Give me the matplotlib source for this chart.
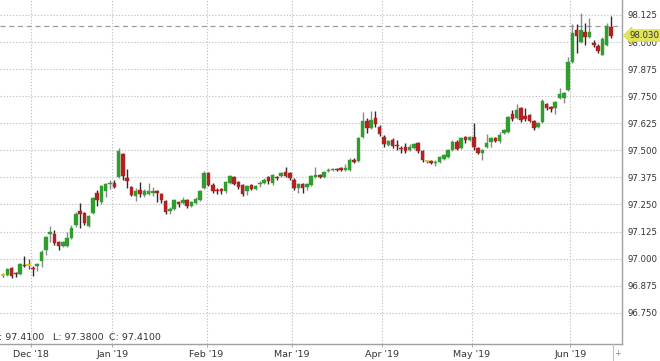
import matplotlib
matplotlib.use("Agg")
import matplotlib.pyplot as plt
import matplotlib.transforms as mtransforms
import numpy as np

# ---------------- data ----------------
opens = [96.925, 96.925, 96.955, 96.935, 96.930, 96.970, 96.970, 96.955, 96.965, 96.990,
         97.040, 97.115, 97.115, 97.075, 97.060, 97.060, 97.095, 97.155, 97.220, 97.210,
         97.150, 97.210, 97.305, 97.260, 97.310, 97.345, 97.350, 97.375, 97.485, 97.370,
         97.330, 97.290, 97.315, 97.295, 97.300, 97.305, 97.310, 97.300, 97.265, 97.220,
         97.230, 97.260, 97.255, 97.270, 97.245, 97.255, 97.270, 97.325, 97.395, 97.340,
         97.315, 97.320, 97.310, 97.350, 97.375, 97.355, 97.340, 97.310, 97.340, 97.320,
         97.345, 97.350, 97.375, 97.350, 97.375, 97.380, 97.400, 97.395, 97.365, 97.325,
         97.345, 97.330, 97.340, 97.375, 97.385, 97.375, 97.405, 97.410, 97.415, 97.420,
         97.410, 97.410, 97.455, 97.450, 97.560, 97.635, 97.605, 97.650, 97.610, 97.560,
         97.525, 97.550, 97.525, 97.510, 97.515, 97.500, 97.510, 97.535, 97.495, 97.450,
         97.450, 97.440, 97.445, 97.460, 97.470, 97.500, 97.540, 97.510, 97.560, 97.550,
         97.560, 97.510, 97.490, 97.515, 97.540, 97.555, 97.545, 97.580, 97.585, 97.670,
         97.650, 97.695, 97.660, 97.665, 97.635, 97.610, 97.630, 97.715, 97.700, 97.695,
         97.740, 97.740, 97.780, 97.910, 98.055, 98.000, 98.045, 98.025, 97.995, 97.980,
         97.940, 97.985, 98.070]
highs = [96.935, 96.955, 96.960, 96.940, 96.980, 97.010, 97.000, 96.965, 96.980, 97.040,
         97.105, 97.150, 97.130, 97.080, 97.080, 97.125, 97.155, 97.215, 97.255, 97.215,
         97.200, 97.285, 97.315, 97.340, 97.350, 97.365, 97.365, 97.510, 97.490, 97.415,
         97.335, 97.325, 97.355, 97.320, 97.350, 97.330, 97.315, 97.305, 97.270, 97.240,
         97.275, 97.265, 97.285, 97.275, 97.265, 97.285, 97.315, 97.405, 97.400, 97.350,
         97.325, 97.325, 97.360, 97.385, 97.380, 97.360, 97.345, 97.340, 97.345, 97.340,
         97.360, 97.370, 97.380, 97.390, 97.380, 97.400, 97.425, 97.400, 97.370, 97.350,
         97.350, 97.350, 97.385, 97.425, 97.390, 97.405, 97.420, 97.420, 97.420, 97.425,
         97.435, 97.465, 97.465, 97.560, 97.675, 97.650, 97.680, 97.680, 97.615, 97.570,
         97.550, 97.555, 97.550, 97.520, 97.535, 97.530, 97.535, 97.540, 97.500, 97.455,
         97.455, 97.455, 97.475, 97.485, 97.505, 97.550, 97.550, 97.560, 97.565, 97.565,
         97.625, 97.515, 97.505, 97.575, 97.560, 97.560, 97.585, 97.600, 97.660, 97.685,
         97.715, 97.700, 97.695, 97.670, 97.640, 97.630, 97.735, 97.720, 97.705, 97.730,
         97.790, 97.770, 97.930, 98.085, 98.085, 98.135, 98.090, 98.110, 98.010, 97.990,
         98.025, 98.090, 98.120]
lows = [96.915, 96.920, 96.910, 96.915, 96.925, 96.960, 96.950, 96.920, 96.945, 96.960,
        97.015, 97.075, 97.065, 97.040, 97.055, 97.055, 97.090, 97.145, 97.140, 97.155,
        97.145, 97.205, 97.245, 97.250, 97.285, 97.320, 97.325, 97.370, 97.365, 97.325,
        97.290, 97.265, 97.285, 97.285, 97.295, 97.290, 97.260, 97.255, 97.205, 97.205,
        97.225, 97.240, 97.250, 97.235, 97.240, 97.250, 97.265, 97.320, 97.335, 97.305,
        97.300, 97.300, 97.305, 97.345, 97.340, 97.320, 97.290, 97.295, 97.315, 97.315,
        97.330, 97.345, 97.345, 97.340, 97.365, 97.375, 97.375, 97.365, 97.315, 97.305,
        97.305, 97.315, 97.335, 97.370, 97.370, 97.370, 97.400, 97.405, 97.405, 97.405,
        97.405, 97.405, 97.440, 97.445, 97.555, 97.580, 97.600, 97.610, 97.565, 97.515,
        97.520, 97.510, 97.500, 97.490, 97.490, 97.495, 97.505, 97.490, 97.445, 97.440,
        97.435, 97.430, 97.440, 97.455, 97.465, 97.495, 97.500, 97.505, 97.535, 97.545,
        97.500, 97.485, 97.455, 97.510, 97.515, 97.540, 97.535, 97.575, 97.580, 97.635,
        97.645, 97.630, 97.635, 97.630, 97.595, 97.605, 97.625, 97.685, 97.675, 97.670,
        97.735, 97.720, 97.775, 97.905, 97.950, 97.995, 97.985, 98.020, 97.975, 97.950,
        97.940, 97.980, 98.020]
closes = [96.925, 96.950, 96.920, 96.930, 96.975, 96.965, 96.970, 96.950, 96.975, 97.030,
          97.100, 97.125, 97.070, 97.060, 97.075, 97.095, 97.140, 97.205, 97.205, 97.165,
          97.195, 97.280, 97.270, 97.335, 97.345, 97.350, 97.330, 97.495, 97.380, 97.360,
          97.295, 97.310, 97.300, 97.310, 97.310, 97.310, 97.305, 97.270, 97.215, 97.230,
          97.270, 97.250, 97.270, 97.245, 97.260, 97.275, 97.310, 97.395, 97.340, 97.310,
          97.310, 97.310, 97.355, 97.380, 97.345, 97.330, 97.300, 97.335, 97.320, 97.335,
          97.350, 97.365, 97.360, 97.385, 97.370, 97.395, 97.380, 97.370, 97.325, 97.345,
          97.325, 97.345, 97.380, 97.385, 97.375, 97.400, 97.410, 97.415, 97.410, 97.410,
          97.420, 97.455, 97.445, 97.555, 97.635, 97.605, 97.640, 97.620, 97.575, 97.530,
          97.545, 97.520, 97.520, 97.505, 97.495, 97.515, 97.530, 97.495, 97.455, 97.450,
          97.440, 97.445, 97.470, 97.480, 97.500, 97.540, 97.505, 97.555, 97.550, 97.560,
          97.515, 97.490, 97.500, 97.535, 97.555, 97.545, 97.570, 97.595, 97.655, 97.645,
          97.685, 97.640, 97.645, 97.635, 97.605, 97.625, 97.730, 97.695, 97.690, 97.725,
          97.760, 97.765, 97.910, 98.040, 98.030, 98.055, 98.025, 98.045, 97.985, 97.960,
          98.015, 98.075, 98.030]

month_labels = ["Dec '18", "Jan '19", "Feb '19", "Mar '19", "Apr '19", "May '19", "Jun '19"]
month_first_bar = [7, 26, 48, 68, 89, 110, 133]
y_ticks = [96.750, 96.875, 97.000, 97.125, 97.250, 97.375, 97.500, 97.625, 97.750, 97.875, 98.000, 98.125]
info_labels = ["H: 97.4100", "L: 97.3800", "C: 97.4100"]

# ---------------- figure ----------------
W, H = 660, 361
fig = plt.figure(figsize=(W / 100, H / 100), dpi=100)
fig.patch.set_facecolor("white")
ax = fig.add_axes([0, 17 / H, 622 / W, 1 - 17 / H])

o = np.array(opens); h = np.array(highs); l = np.array(lows); c = np.array(closes)
x = np.arange(len(o))

GREEN = "#2f9e2f"
RED = "#b32222"
YEL = "#e0c31a"

up = c > o
dn = c < o
eq = c == o

# wicks
ax.vlines(x[up], l[up], h[up], color="#8a8a8a", lw=1.0, zorder=3)
ax.vlines(x[dn], l[dn], h[dn], color="#2a2a2a", lw=1.0, zorder=3)
ax.vlines(x[eq], l[eq], h[eq], color="#555555", lw=1.0, zorder=3)

bw = 0.82
minh = 0.0045
bot = np.minimum(o, c)
hgt = np.maximum(np.abs(c - o), minh)
ax.bar(x[up], hgt[up], bottom=bot[up], width=bw, color=GREEN, edgecolor=GREEN, lw=0.3, zorder=4)
ax.bar(x[dn], hgt[dn], bottom=bot[dn], width=bw, color=RED, edgecolor=RED, lw=0.3, zorder=4)
ax.hlines(c[eq], x[eq] - bw / 2 - 0.1, x[eq] + bw / 2 + 0.1, color=YEL, lw=1.4, zorder=4)

# axes limits
ax.set_xlim(-0.7, 144.6)
ax.set_ylim(96.606, 98.194)

# grid
for yt in y_ticks:
    ax.axhline(yt, color="#c4c4c4", lw=0.8, ls=(0, (1.2, 1.6)), zorder=1)
grid_x = [m - 0.45 for m in month_first_bar]
for gx in grid_x:
    ax.axvline(gx, color="#c4c4c4", lw=0.8, ls=(0, (1.2, 1.6)), zorder=1)

# previous close dashed line
ax.axhline(closes[-2], color="#9a9a9a", lw=0.9, ls=(0, (4, 3)), zorder=2)

# axes styling
for s in ["left", "top"]:
    ax.spines[s].set_visible(False)
for s in ["right", "bottom"]:
    ax.spines[s].set_color("#a0a0a0")
    ax.spines[s].set_linewidth(1.0)

ax.yaxis.tick_right()
ax.set_yticks(y_ticks)
ax.set_yticklabels([f"{v:.3f}" for v in y_ticks])
ax.tick_params(axis="y", length=0, pad=4, labelsize=6.2, labelcolor="#333333")
ax.set_xticks(grid_x)
ax.set_xticklabels(month_labels)
ax.tick_params(axis="x", length=2, width=0.6, color="#a0a0a0", pad=2, labelsize=6.8, labelcolor="#333333")

# last price label
trans = mtransforms.blended_transform_factory(ax.transAxes, ax.transData)
ax.text(1.012, closes[-1], f"{closes[-1]:.3f}", transform=trans, fontsize=6.2, color="#333333",
        va="center", ha="left", zorder=10, clip_on=False,
        bbox=dict(boxstyle="larrow,pad=0.15", fc="#e3e35a", ec="#d8d84a", lw=0.5))

# info text bottom-left
info_x = [-8, 53, 109]
for tx, lab in zip(info_x, info_labels):
    fig.text(tx / W, 1 - 338 / H, lab, fontsize=6.8, color="#333333", va="center", ha="left")

# bottom right ornaments
fig.add_artist(plt.Line2D([613 / W, 613 / W], [0, 17 / H], color="#c0c0c0", lw=0.8))
fig.text(618 / W, 1 - 353 / H, "+", fontsize=6, color="#888888", va="center", ha="center")

fig.savefig("out.png", dpi=100, facecolor="white")
